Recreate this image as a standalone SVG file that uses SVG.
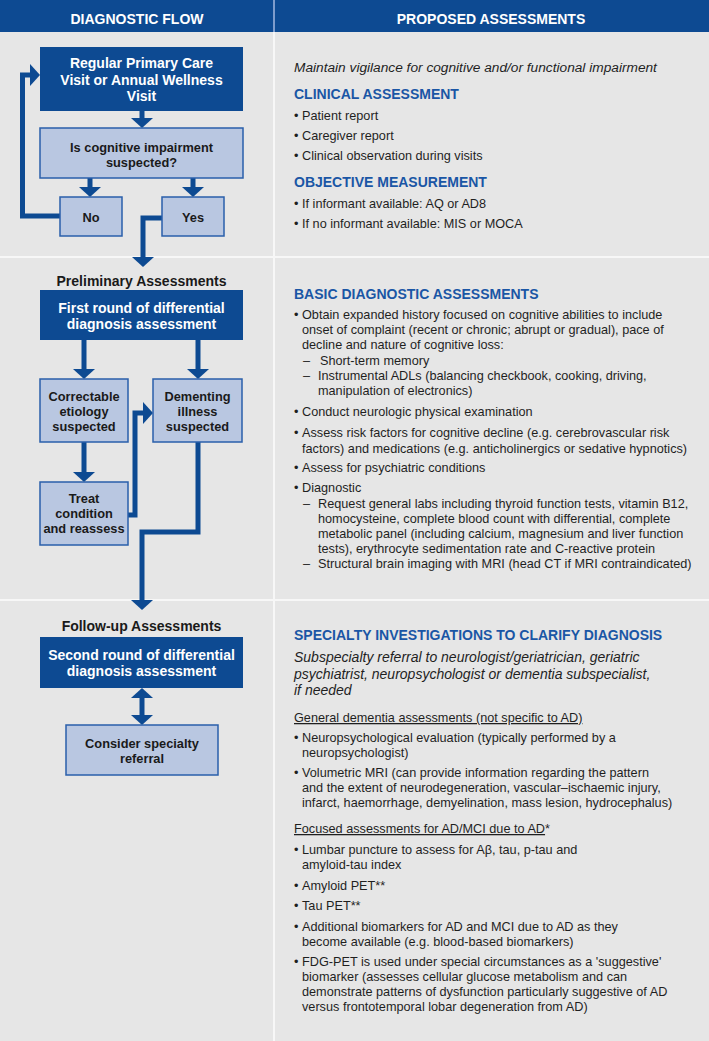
<svg xmlns="http://www.w3.org/2000/svg" width="709" height="1041" viewBox="0 0 709 1041">
<defs>
<style>
text{font-family:"Liberation Sans",Arial,sans-serif;}
.hdr{font-size:14px;font-weight:bold;fill:#ffffff;text-anchor:middle;}
.dk{fill:#0d4a92;}
.lt{fill:#b9c7e1;stroke:#2a5fab;stroke-width:1.5;}
.wt{font-size:14px;font-weight:bold;fill:#ffffff;text-anchor:middle;}
.bt{font-size:12.8px;font-weight:bold;fill:#1a1a1a;text-anchor:middle;}
.sec{font-size:14px;font-weight:bold;fill:#1a1a1a;text-anchor:middle;}
.h{font-size:14px;font-weight:bold;fill:#1a56a5;}
.b{font-size:12.7px;fill:#1f1f1f;}
.it{font-size:13.7px;font-style:italic;fill:#1f1f1f;}
.it2{font-size:14px;font-style:italic;fill:#1f1f1f;}
.u{text-decoration:underline;}
.ln{fill:none;stroke:#0d4a92;stroke-width:5;}
</style>
<marker id="ah" markerUnits="userSpaceOnUse" markerWidth="12" markerHeight="24" viewBox="-1 -12 11 24" refX="0" refY="0" orient="auto-start-reverse">
<path d="M-1,-11 L9,0 L-1,11 Z" fill="#0d4a92"/>
</marker>
</defs>
<rect x="0" y="0" width="709" height="1041" fill="#e6e6e6"/>
<rect x="0" y="0" width="709" height="32" fill="#0d4a92"/>
<rect x="273" y="0" width="2" height="1041" fill="#f7f7f7"/>
<rect x="273" y="0" width="2" height="32" fill="#7d9ccc"/>
<rect x="0" y="256" width="709" height="2" fill="#f7f7f7"/>
<rect x="0" y="599" width="709" height="2" fill="#f7f7f7"/>
<text class="hdr" x="137" y="24">DIAGNOSTIC FLOW</text>
<text class="hdr" x="491" y="24">PROPOSED ASSESSMENTS</text>

<g id="connectors">
<path class="ln" d="M142,111 V119" marker-end="url(#ah)"/>
<path class="ln" d="M90,178 V188" marker-end="url(#ah)"/>
<path class="ln" d="M193,178 V188" marker-end="url(#ah)"/>
<path class="ln" d="M60,216 H22.5 V75 H31" marker-end="url(#ah)"/>
<path class="ln" d="M162,218 H143 V258" marker-end="url(#ah)"/>
<path class="ln" d="M84,340 V370" marker-end="url(#ah)"/>
<path class="ln" d="M198,340 V370" marker-end="url(#ah)"/>
<path class="ln" d="M84,442 V473" marker-end="url(#ah)"/>
<path class="ln" d="M128,515 H135 V413 H144" marker-end="url(#ah)"/>
<path class="ln" d="M198,442 V532 H142 V601" marker-end="url(#ah)"/>
<path class="ln" d="M142,697 V716" marker-start="url(#ah)" marker-end="url(#ah)"/>
</g>

<g id="n-visit">
<rect class="dk" x="40" y="47" width="203" height="64"/>
<text class="wt" x="141.5" y="68">Regular Primary Care</text>
<text class="wt" x="141.5" y="84.5">Visit or Annual Wellness</text>
<text class="wt" x="141.5" y="101">Visit</text>
</g>
<g id="n-suspected">
<rect class="lt" x="40" y="128" width="203" height="50"/>
<text class="bt" x="141.5" y="151.5">Is cognitive impairment</text>
<text class="bt" x="141.5" y="167">suspected?</text>
</g>
<g id="n-no">
<rect class="lt" x="60" y="197" width="62" height="39"/>
<text class="bt" x="91" y="222">No</text>
</g>
<g id="n-yes">
<rect class="lt" x="162" y="197" width="62" height="39"/>
<text class="bt" x="193" y="222">Yes</text>
</g>

<g id="n-prelim">
<text class="sec" x="141.5" y="285.5">Preliminary Assessments</text>
</g>
<g id="n-first">
<rect class="dk" x="40" y="290" width="203" height="50"/>
<text class="wt" x="141.5" y="312.5">First round of differential</text>
<text class="wt" x="141.5" y="328.5">diagnosis assessment</text>
</g>
<g id="n-correctable">
<rect class="lt" x="40" y="379" width="88" height="63"/>
<text class="bt" x="84" y="400.5">Correctable</text>
<text class="bt" x="84" y="415.5">etiology</text>
<text class="bt" x="84" y="430.5">suspected</text>
</g>
<g id="n-dementing">
<rect class="lt" x="153" y="379" width="89" height="63"/>
<text class="bt" x="197.5" y="400.5">Dementing</text>
<text class="bt" x="197.5" y="415.5">illness</text>
<text class="bt" x="197.5" y="430.5">suspected</text>
</g>
<g id="n-treat">
<rect class="lt" x="40" y="482" width="88" height="63"/>
<text class="bt" x="84" y="503">Treat</text>
<text class="bt" x="84" y="518">condition</text>
<text class="bt" x="84" y="533">and reassess</text>
</g>

<g id="n-followup">
<text class="sec" x="141.5" y="631">Follow-up Assessments</text>
</g>
<g id="n-second">
<rect class="dk" x="40" y="637" width="203" height="51"/>
<text class="wt" x="141.5" y="660">Second round of differential</text>
<text class="wt" x="141.5" y="676">diagnosis assessment</text>
</g>
<g id="n-consider">
<rect class="lt" x="66" y="725" width="152" height="50"/>
<text class="bt" x="142" y="748">Consider specialty</text>
<text class="bt" x="142" y="763">referral</text>
</g>

<g id="assess-1">
<text class="it" x="294" y="71.5">Maintain vigilance for cognitive and/or functional impairment</text>
<text class="h" x="294" y="99">CLINICAL ASSESSMENT</text>
<text class="b" x="294" y="120">•</text><text class="b" x="302" y="120">Patient report</text>
<text class="b" x="294" y="140">•</text><text class="b" x="302" y="140">Caregiver report</text>
<text class="b" x="294" y="160">•</text><text class="b" x="302" y="160">Clinical observation during visits</text>
<text class="h" x="294" y="187">OBJECTIVE MEASUREMENT</text>
<text class="b" x="294" y="208">•</text><text class="b" x="302" y="208">If informant available: AQ or AD8</text>
<text class="b" x="294" y="228">•</text><text class="b" x="302" y="228">If no informant available: MIS or MOCA</text>
</g>

<g id="assess-2">
<text class="h" x="294" y="299">BASIC DIAGNOSTIC ASSESSMENTS</text>
<text class="b" x="294" y="319">•</text><text class="b" x="302" y="319">Obtain expanded history focused on cognitive abilities to include</text>
<text class="b" x="302" y="334">onset of complaint (recent or chronic; abrupt or gradual), pace of</text>
<text class="b" x="302" y="349">decline and nature of cognitive loss:</text>
<text class="b" x="303" y="365">–</text><text class="b" x="320" y="365">Short-term memory</text>
<text class="b" x="303" y="380">–</text><text class="b" x="318" y="380">Instrumental ADLs (balancing checkbook, cooking, driving,</text>
<text class="b" x="318" y="395">manipulation of electronics)</text>
<text class="b" x="294" y="416">•</text><text class="b" x="302" y="416">Conduct neurologic physical examination</text>
<text class="b" x="294" y="437">•</text><text class="b" x="302" y="437">Assess risk factors for cognitive decline (e.g. cerebrovascular risk</text>
<text class="b" x="302" y="452.5">factors) and medications (e.g. anticholinergics or sedative hypnotics)</text>
<text class="b" x="294" y="472">•</text><text class="b" x="302" y="472">Assess for psychiatric conditions</text>
<text class="b" x="294" y="492">•</text><text class="b" x="302" y="492">Diagnostic</text>
<text class="b" x="303" y="507.5">–</text><text class="b" x="318" y="507.5">Request general labs including thyroid function tests, vitamin B12,</text>
<text class="b" x="318" y="522.5">homocysteine, complete blood count with differential, complete</text>
<text class="b" x="318" y="537.5">metabolic panel (including calcium, magnesium and liver function</text>
<text class="b" x="318" y="552.5">tests), erythrocyte sedimentation rate and C-reactive protein</text>
<text class="b" x="303" y="567.5">–</text><text class="b" x="318" y="567.5">Structural brain imaging with MRI (head CT if MRI contraindicated)</text>
</g>

<g id="assess-3">
<text class="h" x="294" y="640">SPECIALTY INVESTIGATIONS TO CLARIFY DIAGNOSIS</text>
<text class="it2" x="294" y="662">Subspecialty referral to neurologist/geriatrician, geriatric</text>
<text class="it2" x="294" y="678.5">psychiatrist, neuropsychologist or dementia subspecialist,</text>
<text class="it2" x="294" y="695">if needed</text>
<text class="b u" x="294" y="722">General dementia assessments (not specific to AD)</text>
<text class="b" x="294" y="742">•</text><text class="b" x="302" y="742">Neuropsychological evaluation (typically performed by a</text>
<text class="b" x="302" y="757">neuropsychologist)</text>
<text class="b" x="294" y="777">•</text><text class="b" x="302" y="777">Volumetric MRI (can provide information regarding the pattern</text>
<text class="b" x="302" y="792">and the extent of neurodegeneration, vascular–ischaemic injury,</text>
<text class="b" x="302" y="807">infarct, haemorrhage, demyelination, mass lesion, hydrocephalus)</text>
<text class="b" x="294" y="833"><tspan class="u">Focused assessments for AD/MCI due to AD</tspan>*</text>
<text class="b" x="294" y="854">•</text><text class="b" x="302" y="854">Lumbar puncture to assess for Aβ, tau, p-tau and</text>
<text class="b" x="302" y="869">amyloid-tau index</text>
<text class="b" x="294" y="890">•</text><text class="b" x="302" y="890">Amyloid PET**</text>
<text class="b" x="294" y="910">•</text><text class="b" x="302" y="910">Tau PET**</text>
<text class="b" x="294" y="931">•</text><text class="b" x="302" y="931">Additional biomarkers for AD and MCI due to AD as they</text>
<text class="b" x="302" y="946">become available (e.g. blood-based biomarkers)</text>
<text class="b" x="294" y="966">•</text><text class="b" x="302" y="966">FDG-PET is used under special circumstances as a 'suggestive'</text>
<text class="b" x="302" y="981">biomarker (assesses cellular glucose metabolism and can</text>
<text class="b" x="302" y="996">demonstrate patterns of dysfunction particularly suggestive of AD</text>
<text class="b" x="302" y="1011">versus frontotemporal lobar degeneration from AD)</text>
</g>
</svg>
